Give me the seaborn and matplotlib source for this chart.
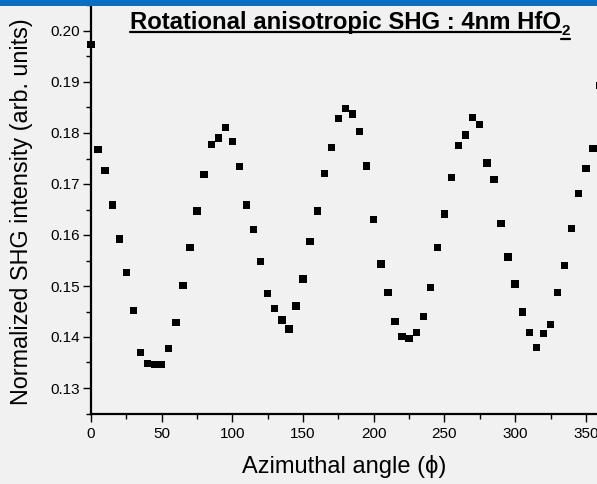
import matplotlib
matplotlib.use("Agg")
import matplotlib.pyplot as plt
import seaborn as sns
import pandas as pd
import numpy as np
from matplotlib.ticker import MultipleLocator
from matplotlib.patches import Rectangle
from matplotlib.lines import Line2D

# ---- data ----
angle = list(range(0, 365, 5))
intensity = [
    0.1974, 0.1768, 0.1727, 0.1659, 0.1592, 0.1527, 0.1452, 0.1369, 0.1348, 0.1346,
    0.1346, 0.1378, 0.1429, 0.1501, 0.1576, 0.1647, 0.1718, 0.1778, 0.1790, 0.1811,
    0.1783, 0.1734, 0.1659, 0.1611, 0.1548, 0.1485, 0.1456, 0.1433, 0.1416, 0.1461,
    0.1514, 0.1587, 0.1647, 0.1720, 0.1772, 0.1828, 0.1848, 0.1837, 0.1803, 0.1735,
    0.1630, 0.1543, 0.1487, 0.1430, 0.1401, 0.1397, 0.1409, 0.1440, 0.1497, 0.1575,
    0.1641, 0.1713, 0.1775, 0.1796, 0.1831, 0.1817, 0.1741, 0.1709, 0.1622, 0.1557,
    0.1504, 0.1449, 0.1409, 0.1380, 0.1407, 0.1425, 0.1487, 0.1540, 0.1613, 0.1682,
    0.1731, 0.1769, 0.1893,
]
x_ticks = [0, 50, 100, 150, 200, 250, 300, 350]
y_ticks = [0.13, 0.14, 0.15, 0.16, 0.17, 0.18, 0.19, 0.20]
title_main = "Rotational anisotropic SHG : 4nm HfO"
title_sub = "2"
xlabel = "Azimuthal angle (\u03d5)"
ylabel = "Normalized SHG intensity (arb. units)"

df = pd.DataFrame({"angle": angle, "intensity": intensity})

sns.set_style("ticks")
plt.rcParams["font.family"] = ["Liberation Sans", "DejaVu Sans"]

W, H = 597, 484
fig = plt.figure(figsize=(W / 100, H / 100), dpi=100, facecolor="#f1f1f1")
ax = fig.add_axes([91 / W, 1 - 413.5 / H, 509 / W, 413.1 / H])
ax.set_facecolor("none")

sns.scatterplot(data=df, x="angle", y="intensity", marker="s", s=28,
                color="black", edgecolor="none", linewidth=0, ax=ax,
                clip_on=False, zorder=5)

ax.set_xlim(0, 360)
ax.set_ylim(0.125, 0.206)
ax.set_xticks(x_ticks)
ax.set_xticklabels([str(v) for v in x_ticks])
ax.set_yticks(y_ticks)
ax.set_yticklabels([f"{v:.2f}" for v in y_ticks])
ax.xaxis.set_minor_locator(MultipleLocator(25))
ax.yaxis.set_minor_locator(MultipleLocator(0.005))
ax.tick_params(axis="both", which="major", direction="out", length=6,
               width=1.0, labelsize=11, color="black", labelcolor="black")
ax.tick_params(axis="x", which="major", pad=4)
ax.tick_params(axis="y", which="major", pad=2)
ax.tick_params(axis="both", which="minor", direction="out", length=3.4,
               width=1.0, color="black")
for side in ["top", "right"]:
    ax.spines[side].set_visible(False)
for side in ["left", "bottom"]:
    ax.spines[side].set_linewidth(1.6)
    ax.spines[side].set_color("black")
ax.set_xlabel("")
ax.set_ylabel("")

fig.text(22 / W, 1 - 212 / H, ylabel, rotation=90, ha="center", va="center",
         fontsize=16.8, color="black")
fig.text(344 / W, 1 - 467 / H, xlabel, ha="center", va="center",
         fontsize=17, color="black")

# title: bold, underlined, with subscript
renderer = fig.canvas.get_renderer()
t = fig.text(130 / W, 1 - 28.5 / H, title_main, ha="left", va="baseline",
             fontsize=17.2, fontweight="bold", color="black")
bb = t.get_window_extent(renderer=renderer)
ts = fig.text(bb.x1 / W, 1 - 35 / H, title_sub, ha="left", va="baseline",
              fontsize=11, fontweight="bold", color="black")
bbs = ts.get_window_extent(renderer=renderer)
uy = 1 - 32 / H
fig.add_artist(Line2D([bb.x0 / W, bb.x1 / W], [uy, uy],
                      transform=fig.transFigure, color="black", linewidth=1.6))
uy2 = 1 - 38.5 / H
fig.add_artist(Line2D([bbs.x0 / W, bbs.x1 / W], [uy2, uy2],
                      transform=fig.transFigure, color="black", linewidth=1.6))

fig.add_artist(Rectangle((0, 1 - 6 / H), 1, 6 / H, transform=fig.transFigure,
                         facecolor="#0a6fc1", edgecolor="none", zorder=10))

fig.savefig("out.png", dpi=100, facecolor=fig.get_facecolor())
